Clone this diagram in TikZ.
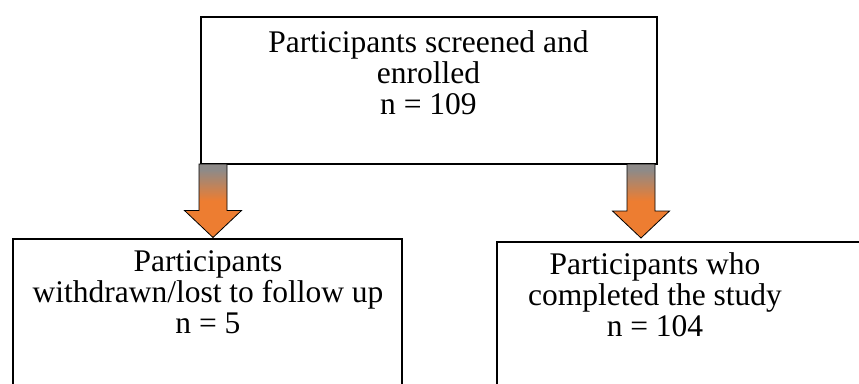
\documentclass[tikz,border=0pt]{standalone}
\usepackage{fontspec}
\setmainfont{Liberation Serif}
\newfontfamily\tnr{Liberation Serif}
\usetikzlibrary{calc}
\definecolor{arrorange}{HTML}{ED7D31}
\definecolor{arrgray}{HTML}{8E8A88}
\pgfdeclareverticalshading{arrowshade}{100bp}{color(0bp)=(arrorange); color(50bp)=(arrorange); color(71bp)=(arrgray); color(100bp)=(arrgray)}
\tikzset{
  box/.style={draw=black, line width=2pt, rectangle, inner sep=0pt},
  boxtext/.style={align=center, font=\tnr\fontsize{31.5}{31}\selectfont, inner sep=0pt},
  blockarrow/.style={draw=black, line width=0.8pt, shading=arrowshade, line join=miter}
}
\begin{document}
\begin{tikzpicture}[x=1pt, y=-1pt]
\useasboundingbox (0,0) rectangle (859,383);
\clip (0,0) rectangle (859,383);
% boxes
\node[box, minimum width=456pt, minimum height=147pt] (top) at (429,90.5) {};
\node[box, minimum width=389pt, minimum height=181pt] (left) at (207.5,329.5) {};
\node[box, minimum width=373pt, minimum height=178pt] (right) at (683.5,331) {};
% texts
\node[boxtext] (toptxt) at (428.5,73) {Participants screened and\\enrolled\\n = 109};
\node[boxtext] (lefttxt) at (208,292) {Participants\\withdrawn/lost to follow up\\n = 5};
\node[boxtext] (righttxt) at (655,295) {Participants who\\completed the study\\n = 104};
% arrow anchors
\coordinate (a1s) at (213,164);
\coordinate (a1e) at (213,237.5);
\coordinate (a2s) at (641,164);
\coordinate (a2e) at (641,238);
\foreach \s/\e in {a1s/a1e, a2s/a2e}{
  \path[blockarrow] ($(\s)+(-14,0)$) -- ($(\s)+(14,0)$) -- ($(\e)+(14,-27)$) -- ($(\e)+(28.5,-27)$) -- (\e) -- ($(\e)+(-28.5,-27)$) -- ($(\e)+(-14,-27)$) -- cycle;
}
\end{tikzpicture}
\end{document}
